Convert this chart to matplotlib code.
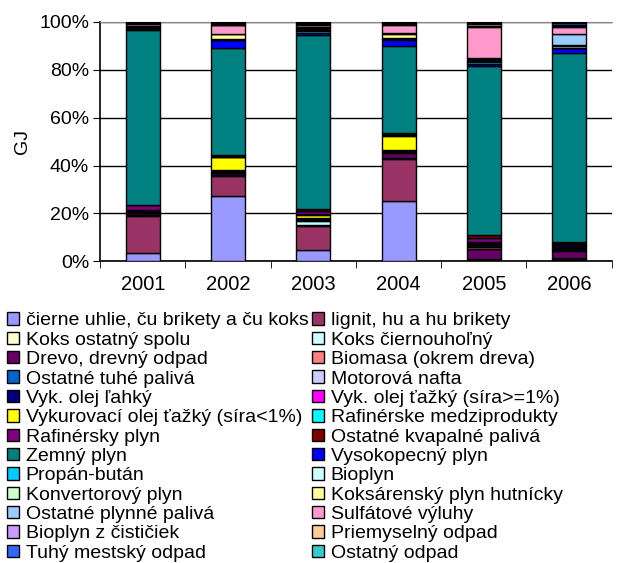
import numpy as np
import matplotlib
matplotlib.use("Agg")
import matplotlib.pyplot as plt

plt.rcParams['font.family'] = ['Liberation Sans', 'DejaVu Sans']

# ---------------- DATA ----------------
years = ["2001", "2002", "2003", "2004", "2005", "2006"]

series_names = [
    "čierne uhlie, ču brikety a ču koks", "lignit, hu a hu brikety",
    "Koks ostatný spolu", "Koks čiernouhoľný",
    "Drevo, drevný odpad", "Biomasa (okrem dreva)",
    "Ostatné tuhé palivá", "Motorová nafta",
    "Vyk. olej ľahký", "Vyk. olej ťažký (síra>=1%)",
    "Vykurovací olej ťažký (síra<1%)", "Rafinérske medziprodukty",
    "Rafinérsky plyn", "Ostatné kvapalné palivá",
    "Zemný plyn", "Vysokopecný plyn",
    "Propán-bután", "Bioplyn",
    "Konvertorový plyn", "Koksárenský plyn hutnícky",
    "Ostatné plynné palivá", "Sulfátové výluhy",
    "Bioplyn z čističiek", "Priemyselný odpad",
    "Tuhý mestský odpad", "Ostatný odpad",
]

series_colors = [
    "#9999FF", "#993366", "#FFFFCC", "#CCFFFF", "#660066", "#FF8080",
    "#0066CC", "#CCCCFF", "#000080", "#FF00FF", "#FFFF00", "#00FFFF",
    "#800080", "#800000", "#008080", "#0000FF", "#00CCFF", "#CCFFFF",
    "#CCFFCC", "#FFFF99", "#99CCFF", "#FF99CC", "#CC99FF", "#FFCC99",
    "#3366FF", "#33CCCC",
]

# share of each fuel per year (%)
cierne_uhlie = [3.5, 27.0, 4.5, 24.6, 0.3, 0.3]
lignit = [15.4, 8.4, 10.1, 17.6, 0.3, 0.4]
koks_ostatny = [0.3, 0.3, 0.3, 0.3, 0.2, 0.3]
koks_ciernouholny = [0.3, 0.3, 1.7, 0.2, 0.2, 0.3]
drevo = [0.6, 0.6, 0.3, 2.0, 4.2, 2.8]
biomasa = [0.1, 0.1, 0.1, 0.1, 0.5, 0.5]
ostatne_tuhe = [0.2, 0.2, 0.2, 0.2, 0.4, 0.4]
motorova_nafta = [0.1, 0.1, 0.1, 0.1, 0.3, 0.3]
olej_lahky = [0.5, 0.6, 0.5, 0.4, 0.6, 0.8]
olej_tazky_vys = [0.1, 0.1, 0.1, 0.1, 0.2, 0.3]
olej_tazky_niz = [0.3, 5.4, 1.1, 5.9, 0.3, 0.3]
rafin_medzi = [0.1, 0.3, 0.3, 0.3, 0.3, 0.4]
rafin_plyn = [1.8, 0.4, 1.5, 0.4, 1.7, 0.4]
ostatne_kvapalne = [0.2, 0.4, 0.5, 0.4, 1.5, 0.5]
zemny_plyn = [73.2, 44.5, 72.0, 35.8, 70.0, 76.8]
vysokopecny = [0.4, 3.1, 0.8, 2.8, 0.8, 1.8]
propan_butan = [0.3, 0.2, 0.6, 0.2, 0.8, 0.2]
bioplyn = [0.2, 0.2, 0.5, 0.2, 0.5, 0.2]
konvertorovy = [0.2, 0.3, 0.5, 0.3, 0.5, 0.7]
koksarensky = [0.2, 1.7, 0.4, 1.7, 0.4, 0.3]
ostatne_plynne = [0.1, 0.3, 0.3, 0.3, 0.2, 4.5]
sulfatove = [1.0, 3.5, 1.0, 3.5, 12.9, 2.8]
bioplyn_cist = [0.2, 0.3, 0.3, 0.3, 0.5, 0.5]
priemyselny = [0.2, 0.4, 0.3, 0.3, 0.6, 0.5]
tuhy_mestsky = [0.2, 0.4, 0.3, 0.3, 0.6, 0.6]
ostatny_odpad = [0.2, 0.3, 0.2, 0.2, 0.4, 0.5]

series_values = [
    cierne_uhlie, lignit, koks_ostatny, koks_ciernouholny, drevo, biomasa,
    ostatne_tuhe, motorova_nafta, olej_lahky, olej_tazky_vys, olej_tazky_niz,
    rafin_medzi, rafin_plyn, ostatne_kvapalne, zemny_plyn, vysokopecny,
    propan_butan, bioplyn, konvertorovy, koksarensky, ostatne_plynne,
    sulfatove, bioplyn_cist, priemyselny, tuhy_mestsky, ostatny_odpad,
]
# --------------------------------------

vals = np.array(series_values, dtype=float)
vals = vals / vals.sum(axis=0) * 100  # 100% stacked

fig = plt.figure(figsize=(6.3, 5.63), dpi=100)
ax = fig.add_axes([0.159, 0.536, 0.812, 0.425])

x = np.arange(len(years))
bottom = np.zeros(len(years))
handles = []
for name, col, v in zip(series_names, series_colors, vals):
    b = ax.bar(x, v, 0.4, bottom=bottom, color=col, edgecolor="black",
               linewidth=1.0, label=name, zorder=3)
    bottom += v
    handles.append(b)

ax.set_xlim(-0.5, len(years) - 0.5)
ax.set_ylim(0, 100)
ax.set_yticks(range(0, 101, 20))
ax.set_yticklabels([f"{t}%" for t in range(0, 101, 20)], fontsize=14)
ax.set_xticks(x)
ax.set_xticklabels(years, fontsize=14.5)
ax.set_xticks(np.arange(-0.5, len(years)), minor=True)
ax.tick_params(axis="x", which="major", length=0, pad=10)
ax.tick_params(axis="x", which="minor", length=5, direction="out")
ax.tick_params(axis="y", length=5, direction="out", pad=3)
ax.yaxis.grid(True, color="black", linewidth=1.0, zorder=0)
ax.set_axisbelow(True)
ax.spines["right"].set_visible(False)
ax.spines["top"].set_color("#888888")
ax.spines["left"].set_linewidth(1.2)
ax.spines["bottom"].set_linewidth(1.2)
ax.set_ylabel("GJ", fontsize=14, labelpad=6)

# legend in row-major order like the original (2 columns)
labels = list(series_names)
order = list(range(0, len(handles), 2)) + list(range(1, len(handles), 2))
fig.legend([handles[i] for i in order], [labels[i] for i in order],
           loc="upper left", bbox_to_anchor=(0.005, 0.452), ncol=2,
           frameon=False, fontsize=14, handlelength=0.6, handleheight=0.6,
           handletextpad=0.35, labelspacing=0.12, columnspacing=0.2,
           borderpad=0.2, borderaxespad=0.0)

plt.savefig("out.png", dpi=100)
